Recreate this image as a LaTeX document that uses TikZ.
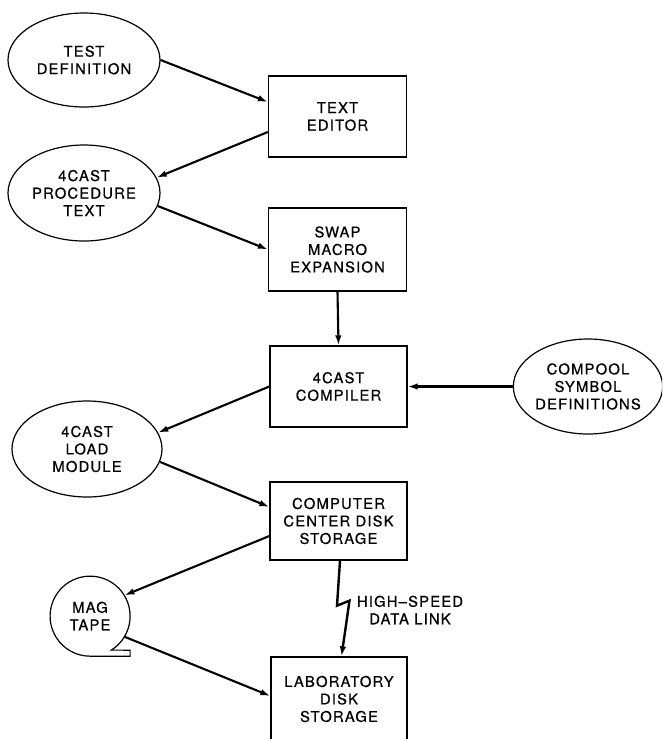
\documentclass[tikz,border=0pt]{standalone}
\usepackage{fontspec}
\setmainfont{TeX Gyre Heros}[LetterSpace=8,FakeBold=0.6]
\usetikzlibrary{shapes.geometric,arrows.meta,calc}
\begin{document}
\begin{tikzpicture}[x=1pt,y=-1pt,
  txt/.style={font=\fontsize{14.8}{17.5}\selectfont, align=center, inner sep=0pt},
  oval/.style={txt, ellipse, draw, line width=1.2pt},
  blk/.style={txt, rectangle, draw, line width=1.3pt, minimum width=138pt, minimum height=81pt},
  arr/.style={line width=2.1pt, -{Latex[length=10pt,width=6.5pt]}}]
\useasboundingbox (0,0) rectangle (662,739);
\clip (0,0) rectangle (662,739);
% nodes
\node[oval, minimum width=152pt, minimum height=94pt] (testdef) at (84,60) {TEST\\DEFINITION};
\node[blk] (editor) at (337.5,116.5) {TEXT\\EDITOR};
\node[oval, minimum width=152pt, minimum height=96pt] (proc) at (84,193) {4CAST\\PROCEDURE\\TEXT};
\node[blk, minimum height=83pt] (swap) at (337.5,249.5) {SWAP\\MACRO\\EXPANSION};
\node[blk, minimum width=137pt] (compiler) at (338.5,386.5) {4CAST\\COMPILER};
\node[oval, minimum width=147pt, minimum height=95pt] (compool) at (588,386.5) {COMPOOL\\SYMBOL\\DEFINITIONS};
\node[oval, minimum width=150pt, minimum height=96pt] (load) at (87,449) {4CAST\\LOAD\\MODULE};
\node[blk, minimum width=137pt, minimum height=78pt] (ccds) at (338.5,521) {COMPUTER\\CENTER DISK\\STORAGE};
\node[txt, circle, minimum size=80pt] (tape) at (90,616) {MAG\\TAPE};
\node[blk, minimum width=136pt, minimum height=84pt] (lab) at (339,699) {LABORATORY\\DISK\\STORAGE};
\node[txt] (hs) at (410,610) {HIGH–SPEED\\DATA LINK};
% mag tape outline with tail
\draw[line width=1.2pt] (tape.-58) arc[start angle=-58, end angle=270, radius=40pt]
  -- ++(40pt,0pt) -- ++(0pt,6pt) -- cycle;
% connectors
\draw[arr] (testdef.east) -- ([yshift=14.5pt]editor.west);
\draw[arr] ([yshift=-15.5pt]editor.west) -- (proc.12);
\draw[arr] (proc.-10) -- (swap.west);
\draw[arr] (swap.south) -- (compiler.north);
\draw[arr] (compool.west) -- (compiler.east);
\draw[arr] (compiler.west) -- (load.13);
\draw[arr] (load.-10) -- ([yshift=14pt]ccds.west);
\draw[arr] ([yshift=-15pt]ccds.west) -- (tape.31);
\draw[arr] (tape.-31) -- ([yshift=3pt]lab.west);
\draw[arr, line width=2.4pt] ([xshift=1.5pt]ccds.south) -- ++(-3,45) -- ++(12.5,-5) -- ([xshift=2.5pt]lab.north);
\end{tikzpicture}
\end{document}
